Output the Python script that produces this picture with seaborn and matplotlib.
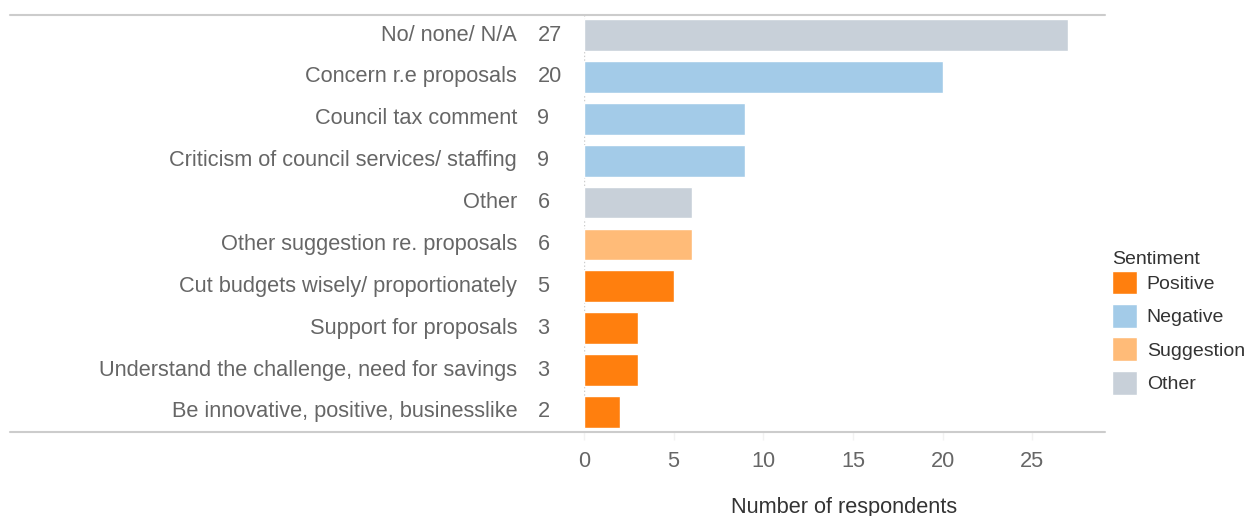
import pandas as pd
import seaborn as sns
import matplotlib.pyplot as plt
from matplotlib.patches import Patch
from matplotlib.lines import Line2D

# data
categories = ['No/ none/ N/A', 'Concern r.e proposals', 'Council tax comment',
              'Criticism of council services/ staffing', 'Other',
              'Other suggestion re. proposals', 'Cut budgets wisely/ proportionately',
              'Support for proposals', 'Understand the challenge, need for savings',
              'Be innovative, positive, businesslike']
counts = [27, 20, 9, 9, 6, 6, 5, 3, 3, 2]
sentiment = ['Other', 'Negative', 'Negative', 'Negative', 'Other',
             'Suggestion', 'Positive', 'Positive', 'Positive', 'Positive']
sent_order = ['Positive', 'Negative', 'Suggestion', 'Other']
sent_colors = ['#ff7f0e', '#a3cbe8', '#ffbb78', '#c8d0d9']
x_ticks = [0, 5, 10, 15, 20, 25]

df = pd.DataFrame({'Category': categories, 'Count': counts, 'Sentiment': sentiment})
palette = dict(zip(sent_order, sent_colors))

sns.set_theme(style='white')
plt.rcParams['font.family'] = ['Liberation Sans', 'DejaVu Sans']
fs = 15.7

fig = plt.figure(figsize=(12.55, 5.16), dpi=100)
ax = fig.add_axes([584/1255, 1-432/516, (1105-584)/1255, (432-15)/516])

sns.barplot(data=df, y='Category', x='Count', hue='Sentiment', hue_order=sent_order,
            palette=palette, dodge=False, width=0.76, saturation=1, orient='h',
            legend=False, ax=ax)

ax.set_xlim(0, 29.06)
ax.set_ylim(len(categories) - 0.52, -0.48)
for s in ax.spines.values():
    s.set_visible(False)

# category names and values as two text columns on the left
ax.set_yticks([])
ax.set_ylabel('')
for i, (c, v) in enumerate(zip(categories, counts)):
    ax.text(-3.73, i, c, ha='right', va='center', fontsize=fs, color='#666666')
    ax.text(-2.6, i, str(v), ha='left', va='center', fontsize=fs, color='#666666')

ax.set_xticks(x_ticks)
ax.set_xticklabels([str(t) for t in x_ticks], fontsize=fs, color='#666666')
ax.tick_params(axis='x', bottom=True, length=6, width=1, color='#f2f2f2', pad=8)
ax.set_xlabel('Number of respondents', fontsize=fs, color='#333333', labelpad=18)

# zero line and frame lines
ax.axvline(0, color='#cccccc', lw=1, ls=':', zorder=0)
for yy in (15, 432):
    fig.add_artist(Line2D([10/1255, 1105/1255], [1-yy/516, 1-yy/516],
                          color='#cccccc', lw=1.5))

handles = [Patch(facecolor=palette[s], label=s) for s in sent_order]
leg = fig.legend(handles=handles, title='Sentiment', loc='upper left',
                 bbox_to_anchor=(1104/1255, 1-243/516), frameon=False,
                 fontsize=14, title_fontsize=14, handlelength=1.3, handleheight=1.5,
                 labelspacing=0.5, handletextpad=0.5, borderaxespad=0)
leg._legend_box.align = 'left'
leg._legend_box.sep = 2
for t in leg.get_texts():
    t.set_color('#333333')
leg.get_title().set_color('#333333')

fig.savefig('out.png', dpi=100)
